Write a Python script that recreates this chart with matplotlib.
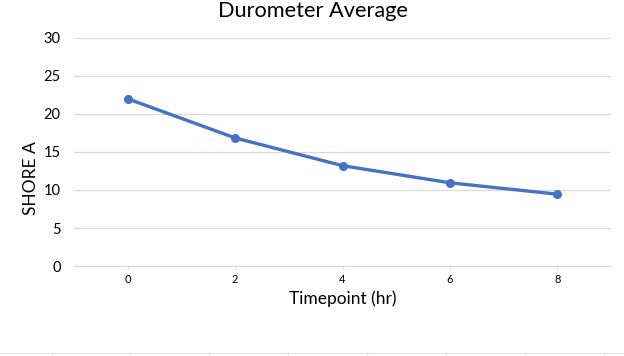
import matplotlib
matplotlib.use('Agg')
import matplotlib.pyplot as plt
from matplotlib.lines import Line2D

plt.rcParams['font.family'] = ['Lato', 'DejaVu Sans']

timepoints = ['0', '2', '4', '6', '8']
shore_a = [22.0, 16.85, 13.2, 10.95, 9.45]
y_ticks = [0, 5, 10, 15, 20, 25, 30]

fig = plt.figure(figsize=(6.24, 3.56), dpi=100)
ax = fig.add_axes([0.1186, 0.2528, 0.8606, 0.6405])

x = range(len(timepoints))
ax.plot(x, shore_a, color='#4472C4', linewidth=2.4, marker='o', markersize=5.5,
        solid_capstyle='round')

ax.set_xlim(-0.5, len(timepoints) - 0.5)
ax.set_ylim(0, 30)
ax.set_yticks(y_ticks)
ax.set_xticks(list(x))
ax.set_xticklabels(timepoints)
ax.grid(axis='y', color='#d9d9d9', linewidth=0.9)
ax.set_axisbelow(True)
for s in ['top', 'right', 'left']:
    ax.spines[s].set_visible(False)
ax.spines['bottom'].set_color('#d9d9d9')
ax.tick_params(axis='y', length=0, labelsize=10.5, pad=9.5)
ax.tick_params(axis='x', length=3, color='#e6e6e6', labelsize=8, pad=3)

fig.text(0.501, 1 - 16.7 / 356, 'Durometer Average', ha='center', va='baseline',
         fontsize=15.7)
ax.set_ylabel('SHORE A', fontsize=12.5, labelpad=2)
ax.set_xlabel('Timepoint (hr)', fontsize=12.5, labelpad=4)
ax.yaxis.set_label_coords(31 / 624, 0.5, transform=fig.transFigure)
ax.yaxis.label.set_va('center')

# faint spreadsheet cell lines at the bottom of the screenshot
ybot = 1 - 353 / 356
fig.add_artist(Line2D([0, 1], [ybot, ybot], transform=fig.transFigure,
                      color='#e0e0e0', linewidth=0.8))
for px in [52, 130, 209, 288, 367, 446, 525, 604]:
    fig.add_artist(Line2D([px / 624, px / 624], [0, ybot], transform=fig.transFigure,
                          color='#e0e0e0', linewidth=0.8))

fig.savefig('out.png', dpi=100, facecolor='white')
